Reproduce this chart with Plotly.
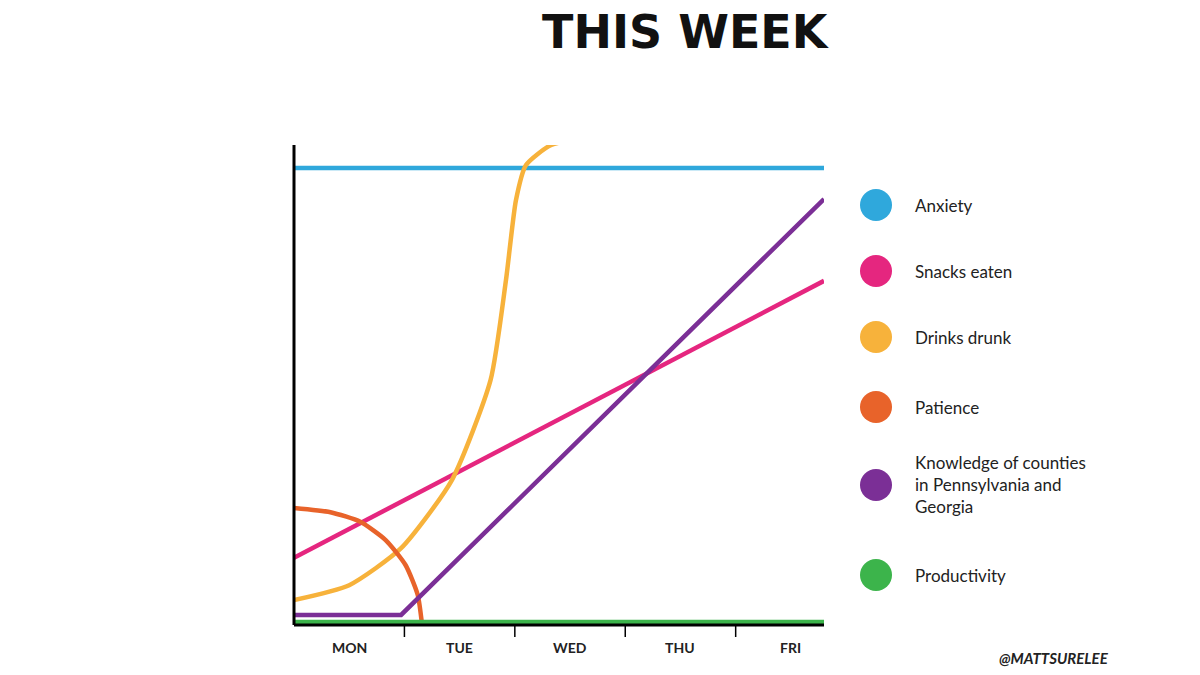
import plotly.graph_objects as go

days = ["MON", "TUE", "WED", "THU", "FRI"]
day_pos = [0.5, 1.5, 2.5, 3.5, 4.5]
sep_pos = [1, 2, 3, 4]

anx_x = [0, 4.8]; anx_y = [95.2, 95.2]
snk_x = [0, 4.8]; snk_y = [14.0, 71.7]
drk_x = [0, 0.5, 0.97, 1.43, 1.78, 1.92, 2.01, 2.1, 2.33, 2.78, 3.69, 4.8]
drk_y = [5.2, 8.3, 16.0, 30.2, 51.0, 71.9, 88.5, 95.8, 100.0, 101.7, 102.5, 102.9]
pat_x = [0, 0.33, 0.6, 0.83, 1.01, 1.12, 1.16]
pat_y = [24.4, 23.5, 21.5, 17.7, 12.5, 6.3, 0]
knw_x = [0, 0.97, 4.8]; knw_y = [2.1, 2.1, 88.75]
prd_x = [0, 4.8]; prd_y = [0.6, 0.6]

series = [
    ("Anxiety", anx_x, anx_y, "#2fa8dc", "linear"),
    ("Snacks eaten", snk_x, snk_y, "#e5267f", "linear"),
    ("Drinks drunk", drk_x, drk_y, "#f7b23b", "spline"),
    ("Patience", pat_x, pat_y, "#e8632a", "spline"),
    ("Knowledge of counties<br>in Pennsylvania and<br>Georgia", knw_x, knw_y, "#7b2f96", "linear"),
    ("Productivity", prd_x, prd_y, "#3cb44b", "linear"),
]
legend_y = [205, 271, 337, 407, 485, 575]

L, T, W, H = 286, 137, 530, 480  # plot area in page px (compensating page offset)

fig = go.Figure()
for name, xs, ys, c, sh in series:
    fig.add_trace(go.Scatter(x=xs, y=ys, mode="lines", line=dict(color=c, width=4.5, shape=sh, smoothing=0.6),
                             showlegend=False, hoverinfo="skip", cliponaxis=False))

def px_x(p):
    return (p - 293) / W

def px_y(p):
    return (625 - p) / H

shapes = []
for s in sep_pos:
    shapes.append(dict(type="line", xref="x", yref="paper", x0=s, x1=s, y0=0, y1=-0.025, line=dict(color="black", width=1.5)))
shapes.append(dict(type="line", xref="paper", yref="paper", x0=0, x1=1, y0=0, y1=0, line=dict(color="black", width=3)))
shapes.append(dict(type="line", xref="paper", yref="paper", x0=0, x1=0, y0=0, y1=1, line=dict(color="black", width=3)))
annotations = []
for (name, xs, ys, c, sh), py in zip(series, legend_y):
    shapes.append(dict(type="circle", xref="paper", yref="paper", x0=px_x(859), x1=px_x(891),
                       y0=px_y(py + 16), y1=px_y(py - 16), fillcolor=c, line=dict(width=0)))
    annotations.append(dict(xref="paper", yref="paper", x=px_x(912), y=px_y(py), text=name,
                            showarrow=False, xanchor="left", yanchor="middle", align="left",
                            font=dict(family="Lato", size=17, color="#222")))
for d, p in zip(days, day_pos):
    annotations.append(dict(xref="x", yref="paper", x=p, y=-0.025, text="<b>%s</b>" % d, showarrow=False,
                            yanchor="top", xanchor="center", font=dict(family="Lato", size=14, color="#222")))
annotations.append(dict(xref="paper", yref="paper", x=px_x(1110), y=px_y(658),
                        text="<b><i>@MATTSURELEE</i></b>", showarrow=False, xanchor="right", yanchor="middle",
                        font=dict(family="Lato", size=15, color="#222")))
annotations.append(dict(xref="paper", yref="paper", x=px_x(685), y=px_y(32),
                        text="<b>THIS WEEK</b>", showarrow=False, xanchor="center", yanchor="middle",
                        font=dict(family="DejaVu Sans", size=46, color="#111")))

fig.update_layout(
    width=1200, height=675, margin=dict(l=L, r=1200 - L - W, t=T, b=675 - T - H),
    plot_bgcolor="white", paper_bgcolor="white",
    xaxis=dict(range=[0, 4.8], visible=False, fixedrange=True),
    yaxis=dict(range=[0, 100], visible=False, fixedrange=True),
    shapes=shapes, annotations=annotations,
)
fig.write_html("out.html")
